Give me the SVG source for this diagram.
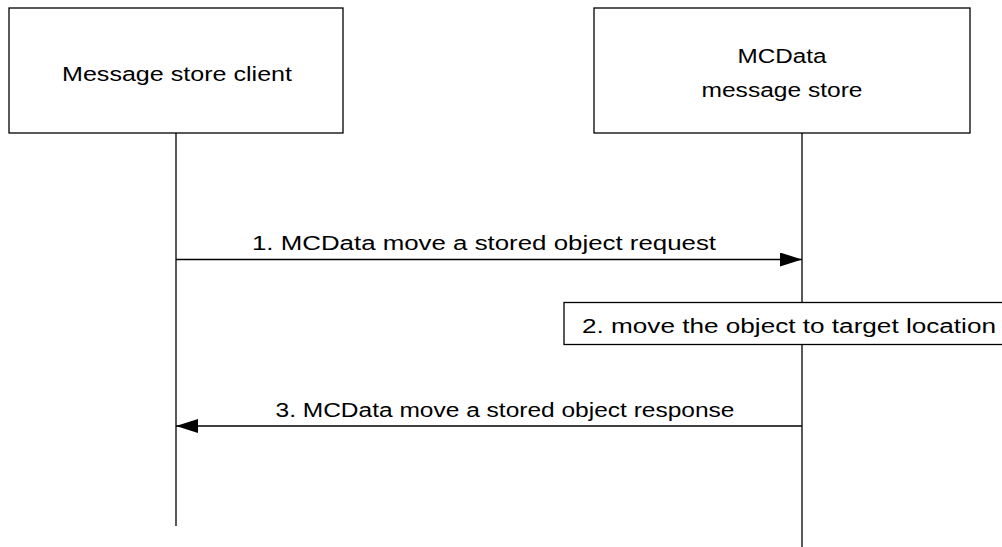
<svg xmlns="http://www.w3.org/2000/svg" width="1002" height="547" viewBox="0 0 1002 547">
<defs>
<style>
.box{fill:#fff;stroke:#000;stroke-width:1.3}
.ln{stroke:#000;stroke-width:1.3;fill:none}
text{font-family:"Liberation Sans",Arial,sans-serif;font-size:20px;fill:#000}
</style>
<marker id="ah" markerWidth="22" markerHeight="14" refX="22" refY="7" orient="auto" markerUnits="userSpaceOnUse">
<path d="M0,0 L22,7 L0,14 Z" fill="#000"/>
</marker>
</defs>
<g id="client">
<rect class="box" x="9" y="8" width="334" height="125"/>
<text x="177" y="81" text-anchor="middle" textLength="230" lengthAdjust="spacingAndGlyphs">Message store client</text>
</g>
<g id="store">
<rect class="box" x="594" y="8" width="376" height="125"/>
<text x="782" y="63" text-anchor="middle" textLength="89" lengthAdjust="spacingAndGlyphs">MCData</text>
<text x="782" y="97" text-anchor="middle" textLength="161" lengthAdjust="spacingAndGlyphs">message store</text>
</g>
<g id="connectors">
<line class="ln" x1="176" y1="133" x2="176" y2="526"/>
<line class="ln" x1="802" y1="133" x2="802" y2="547"/>
<line class="ln" x1="176" y1="259.5" x2="802" y2="259.5" marker-end="url(#ah)"/>
<text x="484" y="250" text-anchor="middle" textLength="464" lengthAdjust="spacingAndGlyphs">1. MCData move a stored object request</text>
<line class="ln" x1="802" y1="426" x2="176" y2="426" marker-end="url(#ah)"/>
<text x="505" y="417" text-anchor="middle" textLength="459" lengthAdjust="spacingAndGlyphs">3. MCData move a stored object response</text>
</g>
<g id="step2">
<rect class="box" x="564" y="302.5" width="440" height="42"/>
<text x="789" y="333" text-anchor="middle" textLength="414" lengthAdjust="spacingAndGlyphs">2. move the object to target location</text>
</g>
</svg>
